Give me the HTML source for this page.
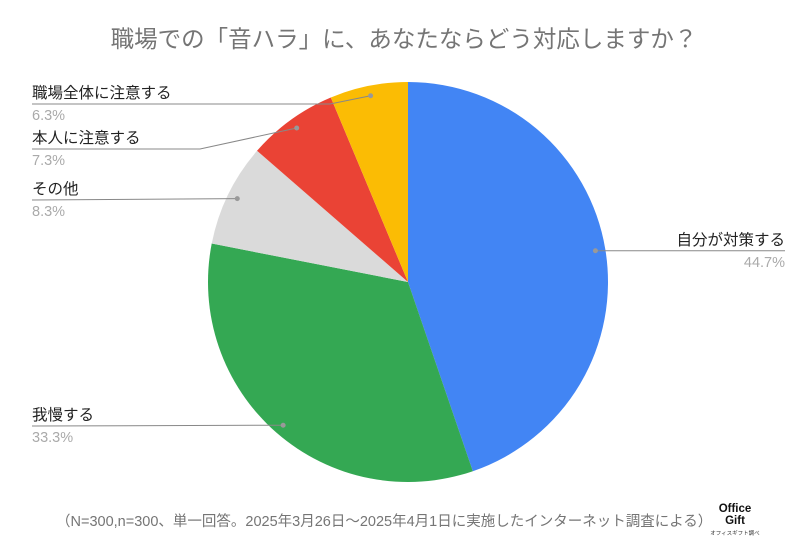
<!DOCTYPE html>
<html><head><meta charset="utf-8"><style>
body{margin:0;background:#fff;font-family:"Liberation Sans","Noto Sans CJK JP",sans-serif}
svg text{font-family:"Liberation Sans","Noto Sans CJK JP",sans-serif}
</style></head><body>
<svg width="800" height="550" viewBox="0 0 800 550">
<text x="404" y="47" text-anchor="middle" font-size="23.5" fill="#757575">職場での「音ハラ」に、あなたならどう対応しますか？</text>
<g id="slices"></g>
<g id="labels"></g>
<text x="56" y="526" font-size="14.5" fill="#757575">（N=300,n=300、単一回答。2025年3月26日〜2025年4月1日に実施したインターネット調査による）</text>
<g>
<text x="735" y="512" text-anchor="middle" font-size="11.5" font-weight="bold" fill="#111">Office</text>
<text x="735" y="524" text-anchor="middle" font-size="11.5" font-weight="bold" fill="#111">Gift</text>
<text x="735" y="535" text-anchor="middle" font-size="5.5" fill="#333">オフィスギフト調べ</text>
</g>
</svg>
<script>
const categories=["自分が対策する","我慢する","その他","本人に注意する","職場全体に注意する"];
const values=[44.7,33.3,8.3,7.3,6.3];
const pctLabels=["44.7%","33.3%","8.3%","7.3%","6.3%"];
const colors=["#4285f4","#34a853","#dadada","#ea4335","#fbbc04"];
const cx=408,cy=282,R=200,RD=190;
const NS="http://www.w3.org/2000/svg";
const total=values.reduce((a,b)=>a+b,0);
function pt(a,r){return [cx+r*Math.sin(a),cy-r*Math.cos(a)];}
const sg=document.getElementById('slices'),lg=document.getElementById('labels');
const layout=[["r",251,785,null],["l",426,32,null],["l",200,32,null],["l",149,32,200],["l",104,32,330]];
let acc=0;
values.forEach((v,i)=>{
  const a0=acc/total*2*Math.PI; acc+=v; const a1=acc/total*2*Math.PI;
  const p0=pt(a0,R),p1=pt(a1,R),large=(a1-a0)>Math.PI?1:0;
  const p=document.createElementNS(NS,'path');
  p.setAttribute('d',`M${cx},${cy}L${p0[0]},${p0[1]}A${R},${R} 0 ${large} 1 ${p1[0]},${p1[1]}Z`);
  p.setAttribute('fill',colors[i]);
  
  
  sg.appendChild(p);
  const d=pt((a0+a1)/2,RD);
  const [side,ly,sx,bx]=layout[i];
  let pts;
  if(side==="r") pts=`${d[0]},${d[1]} ${sx},${d[1]}`;
  else if(bx) pts=`${sx},${ly} ${bx},${ly} ${d[0]},${d[1]}`;
  else pts=`${sx},${ly} ${d[0]},${d[1]}`;
  const yl=side==="r"?d[1]:ly;
  const l=document.createElementNS(NS,'polyline');
  l.setAttribute('points',pts);l.setAttribute('fill','none');l.setAttribute('stroke','#888');l.setAttribute('stroke-width','1');
  
  
  lg.appendChild(l);
  const c=document.createElementNS(NS,'circle');
  c.setAttribute('cx',d[0]);c.setAttribute('cy',d[1]);c.setAttribute('r',2.5);c.setAttribute('fill','#999');
  
  
  lg.appendChild(c);
  const anchor=side==="r"?"end":"start";
  const t=document.createElementNS(NS,'text');
  t.setAttribute('x',sx);t.setAttribute('y',yl-6);t.setAttribute('text-anchor',anchor);t.setAttribute('font-size','15.5');t.setAttribute('fill','#222');
  t.textContent=categories[i];
  
  
  lg.appendChild(t);
  const t2=document.createElementNS(NS,'text');
  t2.setAttribute('x',sx);t2.setAttribute('y',yl+16);t2.setAttribute('text-anchor',anchor);t2.setAttribute('font-size','14.5');t2.setAttribute('fill','#aaa');
  t2.textContent=pctLabels[i];
  
  
  lg.appendChild(t2);
});
</script>
</body></html>
